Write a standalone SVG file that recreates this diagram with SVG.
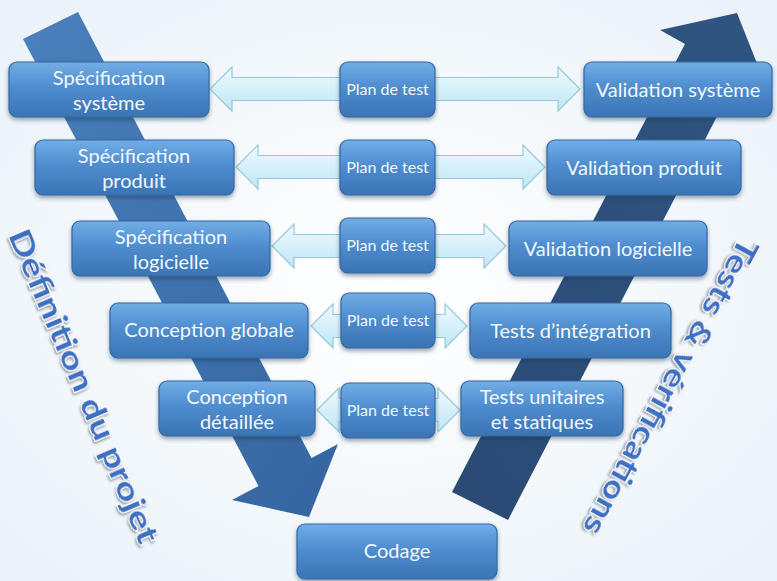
<svg xmlns="http://www.w3.org/2000/svg" width="777" height="581" viewBox="0 0 777 581">
<defs>
<radialGradient id="bg" cx="50%" cy="50%" r="75%">
<stop offset="0" stop-color="#ffffff"/>
<stop offset="1" stop-color="#e8f1f8"/>
</radialGradient>
<linearGradient id="box" x1="0" y1="0" x2="0" y2="1">
<stop offset="0" stop-color="#72ade6"/>
<stop offset="0.45" stop-color="#4f8dcf"/>
<stop offset="1" stop-color="#3a74b4"/>
</linearGradient>
<linearGradient id="conn" x1="0" y1="0" x2="0" y2="1">
<stop offset="0" stop-color="#eefafe"/>
<stop offset="1" stop-color="#bfe6f6"/>
</linearGradient>
<linearGradient id="bigL" x1="0" y1="0" x2="1" y2="1">
<stop offset="0" stop-color="#4a80bc"/>
<stop offset="1" stop-color="#3565a0"/>
</linearGradient>
<linearGradient id="bigR" x1="0" y1="1" x2="1" y2="0">
<stop offset="0" stop-color="#2a4a74"/>
<stop offset="1" stop-color="#2f5581"/>
</linearGradient>
<filter id="sh" x="-10%" y="-10%" width="120%" height="140%">
<feDropShadow dx="0" dy="2.5" stdDeviation="2" flood-color="#1d3550" flood-opacity="0.45"/>
</filter>
<filter id="tsh" x="-10%" y="-30%" width="120%" height="160%">
<feDropShadow dx="1.5" dy="1.5" stdDeviation="1.2" flood-color="#404a55" flood-opacity="0.55"/>
</filter>
</defs>
<style>
.b{fill:url(#box);stroke:#3569a2;stroke-width:1.2;filter:url(#sh)}
.t{font-family:Lato,"Open Sans","Liberation Sans",sans-serif;font-size:20px;fill:#f3f8fd;text-anchor:middle}
.p{font-size:16px}
.c{fill:url(#conn);stroke:#98c8da;stroke-width:1.2}
.r{font-family:Lato,"Open Sans","Liberation Sans",sans-serif;font-weight:bold;font-size:31px;fill:#3b6fc2;stroke:#ffffff;stroke-width:2;paint-order:stroke;text-anchor:middle;filter:url(#tsh)}
</style>
<rect width="777" height="581" fill="url(#bg)"/>
<polygon points="23,39 258.5,486 232,500 309,517 338,444 311.5,458 78,12" fill="url(#bigL)"/>
<polygon points="452,492 685,44 660,30 737,13 766,86 740,72 508,520" fill="url(#bigR)"/>
<text class="r" transform="translate(84,386) rotate(67)" dy="0.35em" textLength="338" lengthAdjust="spacingAndGlyphs">Définition du projet</text>
<text class="r" transform="translate(671,387) rotate(118.5)" dy="0.35em" textLength="333" lengthAdjust="spacingAndGlyphs">Tests &amp; vérifications</text>
<g id="connectors">
<path class="c" d="M210,89 L232,67 L232,77.5 L558,77.5 L558,67 L580,89 L558,111 L558,100.5 L232,100.5 L232,111 Z"/>
<path class="c" d="M236,167 L258,145 L258,155.5 L523,155.5 L523,145 L545,167 L523,189 L523,178.5 L258,178.5 L258,189 Z"/>
<path class="c" d="M272,246 L294,224 L294,234.5 L484,234.5 L484,224 L506,246 L484,268 L484,257.5 L294,257.5 L294,268 Z"/>
<path class="c" d="M311,326 L333,304 L333,314.5 L445,314.5 L445,304 L467,326 L445,348 L445,337.5 L333,337.5 L333,348 Z"/>
<path class="c" d="M317,410 L339,388 L339,398.5 L438,398.5 L438,388 L460,410 L438,432 L438,421.5 L339,421.5 L339,432 Z"/>
</g>
<g id="spec-systeme"><rect class="b" x="9" y="62" width="200" height="55" rx="8"/><text class="t" x="109" y="85">Spécification</text><text class="t" x="109" y="110">système</text></g>
<g id="spec-produit"><rect class="b" x="35" y="140" width="199" height="55" rx="8"/><text class="t" x="134" y="163">Spécification</text><text class="t" x="134" y="188">produit</text></g>
<g id="spec-logicielle"><rect class="b" x="72" y="221" width="198" height="55" rx="8"/><text class="t" x="171" y="244">Spécification</text><text class="t" x="171" y="269">logicielle</text></g>
<g id="conception-globale"><rect class="b" x="110" y="303" width="198" height="55" rx="8"/><text class="t" x="209" y="337">Conception globale</text></g>
<g id="conception-detaillee"><rect class="b" x="159" y="381" width="156" height="55" rx="8"/><text class="t" x="237" y="404">Conception</text><text class="t" x="237" y="429">détaillée</text></g>
<g id="plan1"><rect class="b" x="340" y="62" width="95" height="55" rx="8"/><text class="t p" x="387.5" y="95">Plan de test</text></g>
<g id="plan2"><rect class="b" x="340" y="140" width="95" height="55" rx="8"/><text class="t p" x="387.5" y="173">Plan de test</text></g>
<g id="plan3"><rect class="b" x="340" y="218" width="95" height="55" rx="8"/><text class="t p" x="387.5" y="251">Plan de test</text></g>
<g id="plan4"><rect class="b" x="341" y="293" width="94" height="55" rx="8"/><text class="t p" x="388" y="326">Plan de test</text></g>
<g id="plan5"><rect class="b" x="341" y="383" width="94" height="55" rx="8"/><text class="t p" x="388" y="416">Plan de test</text></g>
<g id="validation-systeme"><rect class="b" x="584" y="62" width="188" height="55" rx="8"/><text class="t" x="678" y="97">Validation système</text></g>
<g id="validation-produit"><rect class="b" x="547" y="140" width="194" height="55" rx="8"/><text class="t" x="644" y="175">Validation produit</text></g>
<g id="validation-logicielle"><rect class="b" x="509" y="221" width="198" height="55" rx="8"/><text class="t" x="608" y="256">Validation logicielle</text></g>
<g id="tests-integration"><rect class="b" x="470" y="303" width="201" height="55" rx="8"/><text class="t" x="570.5" y="338">Tests d’intégration</text></g>
<g id="tests-unitaires"><rect class="b" x="461" y="381" width="162" height="55" rx="8"/><text class="t" x="542" y="404">Tests unitaires</text><text class="t" x="542" y="429">et statiques</text></g>
<g id="codage"><rect class="b" x="297" y="524" width="200" height="55" rx="8"/><text class="t" x="397" y="558">Codage</text></g>
</svg>
